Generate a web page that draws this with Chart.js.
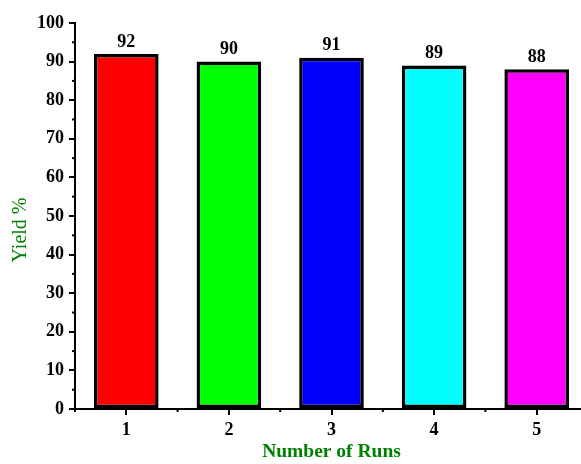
<!DOCTYPE html>
<html>
<head>
<meta charset="utf-8">
<script src="https://cdn.jsdelivr.net/npm/chart.js@4/dist/chart.umd.min.js"></script>
<style>
  html, body { margin: 0; padding: 0; background: #fff; overflow: hidden; }
  #wrap { width: 588px; height: 464px; }
</style>
</head>
<body>
<div id="wrap"><canvas id="yieldChart"></canvas></div>
<script>
// data
const runs = ["1", "2", "3", "4", "5"];
const yields = [92, 90, 91, 89, 88];
const yMin = 0, yMax = 100, yStep = 10;

const barColors = ["#ff0000", "#00ff00", "#0000ff", "#00ffff", "#ff00ff"];
const serif = "'Liberation Serif', 'Times New Roman', serif";

// ===============================
// minor ticks + value labels + y title
// ===============================
const extras = {
  id: "extras",
  afterDraw(chart) {
    const c = chart.ctx;
    const x = chart.scales.x, y = chart.scales.y;
    const area = chart.chartArea;

    c.save();
    c.strokeStyle = "#000";
    c.lineWidth = 2;

    // y minor ticks
    for (let v = yMin + yStep / 2; v < yMax; v += yStep) {
      const py = y.getPixelForValue(v);
      c.beginPath();
      c.moveTo(area.left - 3, py);
      c.lineTo(area.left, py);
      c.stroke();
    }

    // x minor ticks (category boundaries)
    const bounds = [area.left];
    for (let i = 0; i < runs.length - 1; i++) {
      bounds.push((x.getPixelForValue(i) + x.getPixelForValue(i + 1)) / 2);
    }
    bounds.push(area.right);
    bounds.forEach(px => {
      c.beginPath();
      c.moveTo(px, area.bottom);
      c.lineTo(px, area.bottom + 3);
      c.stroke();
    });

    // values above bars
    c.fillStyle = "#000";
    c.font = "bold 18px " + serif;
    c.textAlign = "center";
    c.textBaseline = "bottom";
    chart.getDatasetMeta(0).data.forEach((bar, i) => {
      c.fillText(String(yields[i]), bar.x, bar.y - 3);
    });

    // y axis title
    c.translate(21, 230);
    c.rotate(-Math.PI / 2);
    c.fillStyle = "#008000";
    c.font = "20px " + serif;
    c.textBaseline = "middle";
    c.fillText("Yield %", 0, 0);
    c.restore();
  }
};

new Chart(document.getElementById("yieldChart"), {
  type: "bar",
  data: {
    labels: runs,
    datasets: [{
      data: yields,
      backgroundColor: barColors,
      borderColor: "#000",
      borderWidth: 3.5,
      borderSkipped: false,
      categoryPercentage: 1,
      barPercentage: 0.63
    }]
  },
  options: {
    responsive: true,
    maintainAspectRatio: false,
    animation: false,
    layout: { padding: { top: 23, right: 0, bottom: 0, left: 0 } },
    plugins: {
      legend: { display: false },
      tooltip: { enabled: false }
    },
    scales: {
      x: {
        offset: true,
        afterFit: s => { s.height = 55; },
        grid: { display: true, offset: false, drawOnChartArea: false, tickLength: 6, color: "#000", lineWidth: 2 },
        border: { display: true, color: "#000", width: 2 },
        ticks: { color: "#000", padding: 5, font: { family: serif, size: 18, weight: "bold" } },
        title: {
          display: true,
          text: "Number of Runs",
          color: "#008000",
          padding: { top: 0, bottom: 0 },
          font: { family: serif, size: 19.5, weight: "bold" }
        }
      },
      y: {
        min: yMin,
        max: yMax,
        afterFit: s => { s.width = 75; },
        grid: { display: true, drawOnChartArea: false, tickLength: 6, color: "#000", lineWidth: 2 },
        border: { display: true, color: "#000", width: 2 },
        ticks: { stepSize: yStep, color: "#000", padding: 5, font: { family: serif, size: 18, weight: "bold" } }
      }
    }
  },
  plugins: [extras]
});
</script>
</body>
</html>
